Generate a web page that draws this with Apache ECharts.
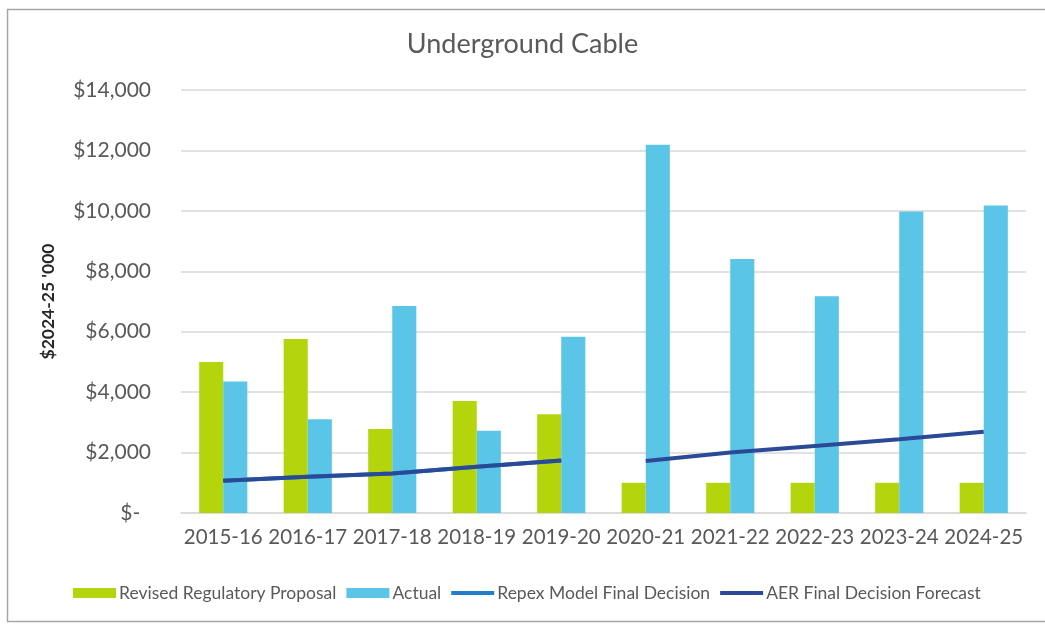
<!DOCTYPE html>
<html>
<head>
<meta charset="utf-8">
<script src="https://cdn.jsdelivr.net/npm/echarts@6/dist/echarts.min.js"></script>
<style>
html,body{margin:0;padding:0;background:#fff;}
#chart{width:1045px;height:624px;}
</style>
</head>
<body>
<div id="chart"></div>
<script>
const categories = ['2015-16','2016-17','2017-18','2018-19','2019-20','2020-21','2021-22','2022-23','2023-24','2024-25'];
const proposal = [5000, 5760, 2780, 3710, 3270, 1000, 1000, 1000, 1000, 1000];
const actual = [4350, 3100, 6850, 2725, 5830, 12190, 8410, 7175, 9980, 10180];
const repex = [1070, 1200, 1310, 1530, 1740, null, null, null, null, null];
const aerPast = [1070, 1200, 1310, 1530, 1740, null, null, null, null, null];
const aerForecast = [null, null, null, null, null, 1720, 2000, 2220, 2440, 2690];
const yTicks = [0, 2000, 4000, 6000, 8000, 10000, 12000, 14000];

const FONT = 'Lato';
const LINE_ICON = 'path://M0,0L0.01,0M0,3L43,3L43,7L0,7ZM0,10L0.01,10';
const chart = echarts.init(document.getElementById('chart'));
chart.setOption({
  animation: false,
  backgroundColor: '#ffffff',
  textStyle: { fontFamily: FONT },
  title: {
    text: 'Underground Cable',
    left: 'center',
    top: 26,
    textStyle: { fontFamily: FONT, fontSize: 27, fontWeight: 'normal', color: '#595959' }
  },
  graphic: [{
    type: 'rect',
    shape: { x: 7.5, y: 9.5, width: 1050, height: 612 },
    style: { fill: 'none', stroke: '#a6a6a6', lineWidth: 1.5 },
    silent: true
  }],
  legend: {
    left: 68,
    top: 579,
    itemWidth: 43,
    itemHeight: 10,
    itemGap: 10,
    textStyle: { fontFamily: FONT, fontSize: 17.5, color: '#595959', padding: [0, 0, 0, -2] },
    data: [
      { name: 'Revised Regulatory Proposal', icon: 'rect' },
      { name: 'Actual', icon: 'rect' },
      { name: 'Repex Model Final Decision', icon: LINE_ICON },
      { name: 'AER Final Decision Forecast', icon: LINE_ICON }
    ]
  },
  grid: { left: 181, right: 19, top: 90, bottom: 111 },
  xAxis: {
    type: 'category',
    data: categories,
    axisTick: { show: false },
    axisLine: { lineStyle: { color: '#d9d9d9', width: 1.5 } },
    axisLabel: { fontFamily: FONT, fontSize: 20.5, color: '#595959', margin: 14, interval: 0 }
  },
  yAxis: {
    type: 'value',
    min: yTicks[0],
    max: yTicks[yTicks.length - 1],
    interval: yTicks[1] - yTicks[0],
    name: "$2024-25 '000",
    nameLocation: 'middle',
    nameGap: 124,
    nameRotate: 90,
    nameTextStyle: { fontFamily: FONT, fontSize: 17.5, color: '#262626', fontWeight: 'bold' },
    axisLine: { show: false },
    axisTick: { show: false },
    splitLine: { lineStyle: { color: '#d9d9d9', width: 1.5 } },
    axisLabel: {
      fontFamily: FONT, fontSize: 21, color: '#595959', margin: 30,
      formatter: v => v === 0 ? '$-  ' : '$' + v.toLocaleString('en-US')
    }
  },
  series: [
    {
      name: 'Revised Regulatory Proposal', type: 'bar', data: proposal,
      itemStyle: { color: '#b4d40c' }, barGap: '0%', barCategoryGap: '43%'
    },
    {
      name: 'Actual', type: 'bar', data: actual,
      itemStyle: { color: '#5bc5e8' }, barGap: '0%', barCategoryGap: '43%'
    },
    {
      name: 'Repex Model Final Decision', type: 'line', data: repex,
      symbol: 'none', lineStyle: { color: '#1f7fcc', width: 4 }, itemStyle: { color: '#1f7fcc' }
    },
    {
      name: 'AER Final Decision Forecast', type: 'line', data: aerPast,
      symbol: 'none', lineStyle: { color: '#2a4a98', width: 4 }, itemStyle: { color: '#2a4a98' }
    },
    {
      name: 'AER Final Decision Forecast', type: 'line', data: aerForecast,
      symbol: 'none', lineStyle: { color: '#2a4a98', width: 4 }, itemStyle: { color: '#2a4a98' }
    }
  ]
});
</script>
</body>
</html>
